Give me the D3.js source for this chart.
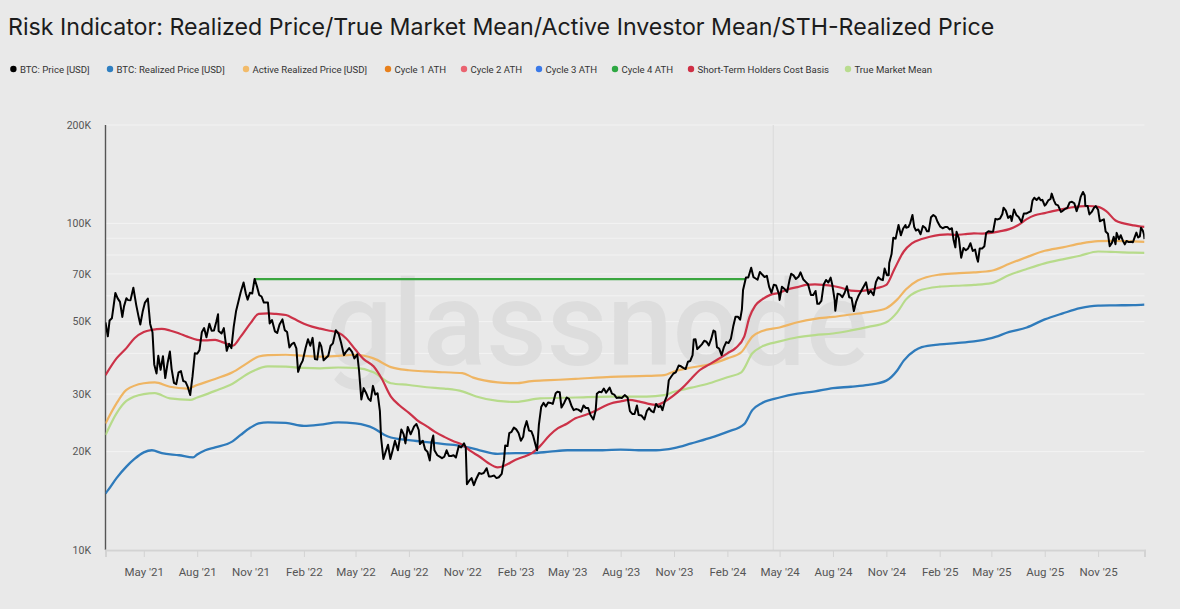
<!DOCTYPE html>
<html>
<head>
<meta charset="utf-8">
<script src="https://cdn.jsdelivr.net/npm/d3@7"></script>
<style>
  html, body { margin: 0; padding: 0; background: #e9e9e9; }
  svg { display: block; }
</style>
</head>
<body>
<div id="chart"></div>
<script>
// Values in thousand USD, [date, value]
const btcPrice = [
  ["2021-02-24",49.7],["2021-02-28",45.1],["2021-03-03",50.4],["2021-03-07",51.2],["2021-03-10",55.9],["2021-03-13",61.2],["2021-03-17",58.9],["2021-03-21",57.5],["2021-03-25",51.7],["2021-03-28",55.8],["2021-04-01",59.0],["2021-04-04",58.2],["2021-04-08",58.1],["2021-04-13",63.5],["2021-04-18",56.2],["2021-04-22",51.8],["2021-04-25",49.0],["2021-04-29",53.6],["2021-05-03",57.2],["2021-05-08",58.8],["2021-05-12",49.2],["2021-05-16",46.4],["2021-05-19",37.0],["2021-05-23",34.7],["2021-05-26",39.3],["2021-05-30",35.6],["2021-06-03",39.2],["2021-06-07",33.6],["2021-06-11",37.3],["2021-06-15",40.5],["2021-06-18",35.8],["2021-06-22",32.5],["2021-06-26",32.2],["2021-06-30",35.0],["2021-07-04",35.3],["2021-07-08",32.9],["2021-07-12",32.7],["2021-07-16",31.5],["2021-07-20",29.8],["2021-07-24",34.0],["2021-07-28",40.0],["2021-08-01",39.9],["2021-08-05",40.9],["2021-08-09",46.4],["2021-08-13",47.8],["2021-08-17",44.8],["2021-08-22",49.3],["2021-08-26",46.9],["2021-08-30",47.0],["2021-09-03",50.0],["2021-09-06",52.7],["2021-09-07",46.8],["2021-09-12",46.0],["2021-09-16",47.8],["2021-09-21",40.7],["2021-09-25",42.8],["2021-09-29",41.5],["2021-10-03",48.2],["2021-10-07",53.8],["2021-10-11",57.5],["2021-10-15",61.5],["2021-10-20",65.9],["2021-10-24",60.9],["2021-10-27",58.4],["2021-10-31",61.3],["2021-11-04",61.0],["2021-11-08",67.6],["2021-11-12",64.2],["2021-11-16",60.3],["2021-11-20",59.7],["2021-11-24",57.2],["2021-11-28",57.2],["2021-12-01",57.2],["2021-12-04",49.4],["2021-12-08",50.6],["2021-12-13",46.7],["2021-12-17",46.2],["2021-12-21",49.0],["2021-12-26",50.8],["2021-12-30",47.1],
  ["2022-01-03",46.5],["2022-01-07",41.7],["2022-01-11",42.7],["2022-01-15",43.1],["2022-01-19",41.4],["2022-01-22",35.1],["2022-01-26",36.8],["2022-01-30",38.0],["2022-02-04",41.6],["2022-02-08",44.2],["2022-02-12",42.2],["2022-02-16",44.6],["2022-02-20",38.4],["2022-02-24",38.3],["2022-02-28",43.2],["2022-03-03",42.0],["2022-03-07",38.1],["2022-03-11",38.7],["2022-03-15",39.3],["2022-03-19",42.2],["2022-03-23",42.9],["2022-03-28",47.1],["2022-04-02",45.8],["2022-04-06",43.2],["2022-04-11",39.5],["2022-04-15",40.5],["2022-04-20",41.5],["2022-04-25",40.4],["2022-04-29",38.6],["2022-05-04",39.7],["2022-05-07",35.5],["2022-05-11",28.9],["2022-05-15",31.3],["2022-05-19",30.3],["2022-05-23",29.1],["2022-05-27",28.6],["2022-05-31",31.8],["2022-06-04",29.9],["2022-06-08",30.2],["2022-06-12",26.6],["2022-06-14",22.1],["2022-06-18",19.0],["2022-06-22",20.0],["2022-06-26",21.0],["2022-06-30",19.0],["2022-07-04",20.2],["2022-07-08",21.6],["2022-07-13",20.2],["2022-07-19",23.4],["2022-07-23",22.6],["2022-07-26",21.2],["2022-07-30",23.8],["2022-08-04",22.6],["2022-08-10",23.9],["2022-08-14",24.3],["2022-08-18",23.3],["2022-08-20",21.1],["2022-08-25",21.6],["2022-08-29",20.3],["2022-09-02",20.0],["2022-09-06",18.8],["2022-09-09",21.4],["2022-09-12",22.4],["2022-09-14",20.2],["2022-09-19",19.5],["2022-09-23",19.3],["2022-09-27",19.1],["2022-10-01",19.3],["2022-10-05",20.2],["2022-10-09",19.4],["2022-10-13",19.4],["2022-10-17",19.5],["2022-10-21",19.2],["2022-10-26",20.8],["2022-10-30",20.6],["2022-11-04",21.2],["2022-11-07",20.6],["2022-11-09",15.9],["2022-11-13",16.3],["2022-11-17",16.6],["2022-11-21",15.8],["2022-11-25",16.5],["2022-11-30",17.2],["2022-12-04",17.1],["2022-12-08",17.2],["2022-12-13",17.8],["2022-12-17",16.8],["2022-12-21",16.8],["2022-12-26",16.9],["2022-12-30",16.6],
  ["2023-01-03",16.7],["2023-01-08",17.1],["2023-01-12",18.9],["2023-01-14",20.9],["2023-01-18",20.8],["2023-01-21",22.8],["2023-01-25",23.0],["2023-01-29",23.7],["2023-02-02",23.4],["2023-02-06",22.8],["2023-02-10",21.6],["2023-02-14",22.2],["2023-02-16",23.5],["2023-02-20",24.8],["2023-02-24",23.2],["2023-02-28",23.1],["2023-03-03",22.4],["2023-03-09",20.4],["2023-03-10",20.2],["2023-03-13",24.1],["2023-03-17",27.4],["2023-03-21",28.2],["2023-03-25",27.5],["2023-03-29",28.3],["2023-04-02",28.2],["2023-04-06",28.0],["2023-04-11",30.2],["2023-04-14",30.5],["2023-04-18",30.4],["2023-04-21",27.3],["2023-04-26",28.3],["2023-04-30",29.3],["2023-05-04",29.0],["2023-05-08",27.7],["2023-05-12",26.8],["2023-05-16",27.0],["2023-05-20",26.9],["2023-05-25",26.5],["2023-05-29",27.7],["2023-06-02",27.2],["2023-06-06",27.2],["2023-06-10",25.9],["2023-06-15",25.1],["2023-06-19",26.8],["2023-06-21",30.1],["2023-06-25",30.5],["2023-06-29",30.4],["2023-07-03",31.2],["2023-07-07",30.3],["2023-07-13",31.4],["2023-07-17",30.1],["2023-07-21",29.9],["2023-07-25",29.2],["2023-07-29",29.3],["2023-08-03",29.2],["2023-08-08",29.8],["2023-08-13",29.3],["2023-08-17",26.6],["2023-08-21",26.1],["2023-08-25",26.1],["2023-08-29",27.7],["2023-09-01",25.9],["2023-09-06",25.8],["2023-09-11",25.1],["2023-09-15",26.6],["2023-09-19",27.2],["2023-09-23",26.6],["2023-09-27",26.4],["2023-10-01",28.0],["2023-10-05",27.4],["2023-10-09",27.6],["2023-10-12",26.8],["2023-10-16",28.5],["2023-10-20",29.7],["2023-10-23",33.1],["2023-10-27",33.9],["2023-10-31",34.7],["2023-11-04",35.0],["2023-11-09",36.7],["2023-11-13",36.5],["2023-11-17",36.1],["2023-11-21",35.8],["2023-11-25",37.7],["2023-11-29",37.9],["2023-12-03",39.5],["2023-12-05",44.1],["2023-12-08",44.2],["2023-12-11",41.2],["2023-12-15",41.9],["2023-12-19",42.6],["2023-12-23",43.7],["2023-12-27",43.4],["2023-12-31",42.3],
  ["2024-01-04",44.2],["2024-01-08",47.0],["2024-01-11",46.6],["2024-01-14",41.8],["2024-01-18",41.3],["2024-01-22",39.5],["2024-01-26",41.8],["2024-01-30",43.3],["2024-02-03",43.0],["2024-02-07",44.3],["2024-02-11",48.3],["2024-02-15",51.8],["2024-02-19",51.8],["2024-02-23",50.7],["2024-02-26",54.5],["2024-02-28",62.5],["2024-03-04",68.3],["2024-03-08",68.3],["2024-03-13",73.1],["2024-03-17",68.4],["2024-03-20",67.9],["2024-03-24",67.2],["2024-03-28",71.0],["2024-04-01",69.7],["2024-04-05",68.5],["2024-04-09",69.1],["2024-04-13",63.9],["2024-04-17",61.3],["2024-04-21",64.9],["2024-04-25",64.5],["2024-04-30",60.6],["2024-05-01",58.3],["2024-05-05",64.0],["2024-05-09",63.1],["2024-05-14",61.6],["2024-05-18",66.9],["2024-05-21",70.1],["2024-05-25",69.3],["2024-05-29",67.6],["2024-06-03",68.8],["2024-06-06",70.8],["2024-06-11",67.3],["2024-06-15",66.2],["2024-06-19",65.1],["2024-06-24",60.3],["2024-06-28",60.3],["2024-07-02",62.1],["2024-07-05",56.7],["2024-07-08",56.7],["2024-07-12",57.9],["2024-07-16",65.0],["2024-07-20",67.1],["2024-07-24",65.9],["2024-07-28",68.2],["2024-07-31",64.6],["2024-08-04",58.1],["2024-08-05",54.0],["2024-08-09",60.9],["2024-08-13",60.6],["2024-08-17",59.4],["2024-08-21",61.2],["2024-08-25",64.2],["2024-08-29",59.4],["2024-09-02",59.1],["2024-09-06",53.9],["2024-09-10",57.6],["2024-09-14",60.0],["2024-09-18",61.7],["2024-09-22",63.6],["2024-09-27",66.0],["2024-10-01",60.8],["2024-10-05",62.1],["2024-10-10",60.3],["2024-10-14",66.1],["2024-10-18",68.4],["2024-10-22",67.4],["2024-10-26",67.0],["2024-10-29",72.7],["2024-11-02",69.4],["2024-11-05",69.4],["2024-11-06",75.6],["2024-11-10",80.5],["2024-11-13",90.4],["2024-11-17",89.8],["2024-11-22",98.9],["2024-11-26",91.9],["2024-11-30",96.4],["2024-12-04",98.8],["2024-12-05",97.0],["2024-12-09",97.4],["2024-12-12",100.0],["2024-12-16",106.1],["2024-12-19",97.5],["2024-12-22",95.1],["2024-12-26",95.8],["2024-12-30",92.6],
  ["2025-01-03",98.1],["2025-01-07",96.9],["2025-01-10",94.6],["2025-01-13",94.5],["2025-01-17",104.4],["2025-01-21",106.1],["2025-01-25",104.7],["2025-01-28",101.3],["2025-02-02",97.7],["2025-02-06",96.6],["2025-02-10",97.4],["2025-02-14",97.5],["2025-02-18",95.8],["2025-02-22",96.6],["2025-02-25",88.7],["2025-02-28",84.4],["2025-03-02",94.2],["2025-03-06",89.9],["2025-03-10",78.5],["2025-03-14",84.0],["2025-03-18",82.7],["2025-03-22",83.8],["2025-03-26",86.9],["2025-03-30",82.3],["2025-04-03",83.1],["2025-04-06",78.4],["2025-04-08",76.3],["2025-04-11",83.8],["2025-04-15",83.7],["2025-04-19",85.1],["2025-04-22",93.4],["2025-04-26",94.6],["2025-04-30",94.2],["2025-05-04",94.3],["2025-05-08",103.2],["2025-05-12",102.8],["2025-05-16",103.5],["2025-05-20",106.8],["2025-05-22",111.7],["2025-05-26",109.4],["2025-05-30",103.9],["2025-06-03",105.4],["2025-06-05",101.6],["2025-06-09",110.3],["2025-06-13",106.1],["2025-06-17",104.6],["2025-06-22",100.9],["2025-06-26",107.1],["2025-06-30",107.1],["2025-07-04",108.0],["2025-07-08",108.9],["2025-07-11",117.5],["2025-07-14",119.8],["2025-07-18",117.9],["2025-07-22",120.0],["2025-07-25",117.6],["2025-07-28",118.0],["2025-08-01",113.3],["2025-08-03",114.2],["2025-08-07",117.5],["2025-08-11",118.7],["2025-08-13",123.3],["2025-08-17",117.4],["2025-08-20",114.3],["2025-08-24",113.5],["2025-08-29",108.4],["2025-09-01",109.2],["2025-09-05",110.7],["2025-09-09",111.5],["2025-09-13",115.9],["2025-09-17",116.4],["2025-09-21",115.2],["2025-09-25",109.0],["2025-09-29",114.3],["2025-10-02",120.5],["2025-10-06",124.7],["2025-10-09",121.7],["2025-10-10",113.2],["2025-10-14",113.0],["2025-10-17",106.5],["2025-10-21",108.4],["2025-10-25",111.6],["2025-10-28",112.9],["2025-11-01",110.1],["2025-11-04",101.5],["2025-11-08",102.3],["2025-11-11",102.9],["2025-11-14",94.4],["2025-11-18",92.9],["2025-11-21",85.1],["2025-11-25",87.3],["2025-11-28",90.9],["2025-12-01",86.3],["2025-12-03",93.5],["2025-12-07",89.4],["2025-12-10",92.0],["2025-12-14",88.2],["2025-12-17",86.2],["2025-12-20",88.3],["2025-12-24",87.6],["2025-12-28",87.8],["2025-12-31",87.5],
  ["2026-01-03",90.6],["2026-01-06",93.7],["2026-01-09",90.5],["2026-01-12",91.2],["2026-01-14",97.0],["2026-01-17",95.1],["2026-01-19",92.6],["2026-01-20",89.5]
];

const realizedPrice = [
  ["2021-02-24",14.9],["2021-03-01",15.3],["2021-03-15",16.6],["2021-04-01",18.0],["2021-04-15",19.0],["2021-05-01",19.9],["2021-05-15",20.2],["2021-06-01",19.8],["2021-07-01",19.5],["2021-07-25",19.2],["2021-08-01",19.6],["2021-08-15",20.2],["2021-09-01",20.6],["2021-10-01",21.5],["2021-10-15",22.5],["2021-11-01",23.7],["2021-11-15",24.4],["2021-12-01",24.6],
  ["2022-01-01",24.5],["2022-02-01",24.0],["2022-03-01",24.2],["2022-04-01",24.6],["2022-05-01",24.4],["2022-06-01",23.6],["2022-06-20",22.5],["2022-07-01",22.1],["2022-08-01",21.7],["2022-09-01",21.4],["2022-10-01",21.1],["2022-11-01",20.8],["2022-12-01",20.2],
  ["2023-01-01",19.7],["2023-02-01",19.8],["2023-03-01",19.8],["2023-04-01",20.0],["2023-05-01",20.2],["2023-06-01",20.2],["2023-07-01",20.2],["2023-08-01",20.3],["2023-09-01",20.2],["2023-10-01",20.2],["2023-11-01",20.5],["2023-12-01",21.2],
  ["2024-01-01",22.0],["2024-02-01",23.0],["2024-03-01",24.3],["2024-03-15",26.8],["2024-04-01",28.2],["2024-05-01",29.3],["2024-06-01",30.1],["2024-07-01",30.6],["2024-08-01",31.3],["2024-09-01",31.6],["2024-10-01",32.0],["2024-11-01",33.0],["2024-11-20",35.5],["2024-12-01",38.0],["2024-12-20",40.8],
  ["2025-01-01",41.8],["2025-02-01",42.6],["2025-03-01",43.0],["2025-04-01",43.5],["2025-05-01",44.5],["2025-06-01",46.5],["2025-07-01",48.0],["2025-08-01",50.8],["2025-09-01",53.0],["2025-10-01",55.0],["2025-11-01",56.0],["2025-12-01",56.1],
  ["2026-01-01",56.2],["2026-01-20",56.4]
];

const activeRealizedPrice = [
  ["2021-02-24",24.4],["2021-03-15",28.1],["2021-04-01",30.9],["2021-05-01",32.4],["2021-05-20",32.6],["2021-06-15",31.6],["2021-07-15",31.2],["2021-08-01",32.0],["2021-09-01",33.4],["2021-10-01",35.0],["2021-10-25",37.2],["2021-11-15",39.1],["2021-12-01",39.5],
  ["2022-01-01",39.6],["2022-02-01",39.3],["2022-03-01",39.1],["2022-04-01",39.3],["2022-05-01",39.6],["2022-06-01",38.6],["2022-07-01",36.3],["2022-08-01",35.5],["2022-09-01",35.2],["2022-10-01",35.0],["2022-11-01",34.8],["2022-11-20",33.7],
  ["2023-01-01",32.6],["2023-02-01",32.4],["2023-03-01",32.9],["2023-04-01",33.1],["2023-05-15",33.4],["2023-07-15",33.9],["2023-09-15",34.1],["2023-10-15",34.3],["2023-11-01",35.2],["2023-12-01",36.2],
  ["2024-01-01",37.0],["2024-02-01",38.6],["2024-02-25",40.3],["2024-03-15",45.0],["2024-04-01",46.8],["2024-05-01",48.0],["2024-06-01",49.8],["2024-07-01",51.0],["2024-08-01",51.7],["2024-09-01",52.6],["2024-10-01",53.5],["2024-11-01",55.0],["2024-11-20",58.5],["2024-12-05",62.8],["2024-12-25",66.8],
  ["2025-02-01",69.7],["2025-03-01",70.3],["2025-04-01",70.8],["2025-05-01",71.6],["2025-06-01",75.2],["2025-07-01",78.8],["2025-08-01",82.4],["2025-09-01",84.4],["2025-10-01",86.7],["2025-11-01",88.2],["2025-12-01",88.4],
  ["2026-01-01",88.0],["2026-01-20",87.8]
];

const sthCostBasis = [
  ["2021-02-24",34.3],["2021-03-15",38.6],["2021-04-01",41.5],["2021-04-15",44.5],["2021-05-01",46.5],["2021-05-15",47.2],["2021-06-01",47.5],["2021-06-15",47.0],["2021-07-01",46.0],["2021-07-15",45.0],["2021-08-01",44.0],["2021-08-15",43.8],["2021-09-01",44.0],["2021-09-15",43.2],["2021-10-01",42.2],["2021-10-15",45.0],["2021-11-01",49.5],["2021-11-15",52.8],["2021-12-01",53.0],["2021-12-15",52.8],
  ["2022-01-01",52.4],["2022-01-15",51.0],["2022-02-01",49.3],["2022-02-15",48.3],["2022-03-01",47.6],["2022-03-15",47.0],["2022-04-01",46.3],["2022-04-15",44.4],["2022-05-01",41.0],["2022-05-15",38.4],["2022-06-01",36.5],["2022-06-15",33.5],["2022-07-01",29.5],["2022-07-15",27.8],["2022-08-01",26.3],["2022-08-15",25.0],["2022-09-01",23.9],["2022-09-15",23.0],["2022-10-01",22.2],["2022-10-15",21.6],["2022-11-01",21.0],["2022-11-15",20.1],["2022-12-01",19.3],["2022-12-15",18.5],
  ["2023-01-01",17.9],["2023-01-15",18.2],["2023-02-01",18.9],["2023-02-15",19.3],["2023-03-01",19.8],["2023-03-15",20.8],["2023-04-01",22.5],["2023-04-15",23.6],["2023-05-01",24.4],["2023-05-15",25.3],["2023-06-01",25.9],["2023-06-15",26.5],["2023-07-01",27.4],["2023-07-15",28.1],["2023-08-01",28.5],["2023-08-15",28.8],["2023-09-01",28.5],["2023-09-15",28.1],["2023-10-01",27.8],["2023-10-15",28.4],["2023-11-01",29.8],["2023-11-15",31.3],["2023-12-01",33.5],["2023-12-15",35.5],
  ["2024-01-01",37.0],["2024-01-15",38.3],["2024-02-01",40.0],["2024-02-15",41.5],["2024-03-01",45.0],["2024-03-10",51.5],["2024-03-20",56.0],["2024-04-01",58.5],["2024-04-15",60.4],["2024-05-01",61.3],["2024-05-15",62.8],["2024-06-01",63.8],["2024-06-15",64.8],["2024-07-01",65.0],["2024-07-15",64.8],["2024-08-01",64.3],["2024-08-15",63.5],["2024-09-01",62.2],["2024-09-15",62.0],["2024-10-01",62.5],["2024-10-15",63.3],["2024-11-01",64.8],["2024-11-15",72.5],["2024-12-01",82.0],["2024-12-15",86.8],
  ["2025-01-01",89.5],["2025-01-15",91.0],["2025-02-01",92.2],["2025-02-15",92.5],["2025-03-01",92.2],["2025-03-15",92.6],["2025-04-01",93.2],["2025-04-15",93.0],["2025-05-01",93.5],["2025-05-15",94.5],["2025-06-01",96.0],["2025-06-15",98.5],["2025-07-01",103.0],["2025-07-15",105.8],["2025-08-01",107.5],["2025-08-15",109.0],["2025-09-01",110.5],["2025-09-15",111.8],["2025-10-01",112.7],["2025-10-15",113.0],["2025-11-01",112.3],["2025-11-15",109.0],["2025-12-01",102.0],["2025-12-15",100.0],
  ["2026-01-01",98.6],["2026-01-20",97.5]
];

const trueMarketMean = [
  ["2021-02-24",22.5],["2021-03-15",26.2],["2021-04-01",28.6],["2021-05-01",30.0],["2021-05-20",30.2],["2021-06-15",29.1],["2021-07-20",28.8],["2021-08-01",29.3],["2021-09-01",30.7],["2021-10-01",32.3],["2021-11-01",35.0],["2021-12-01",36.5],
  ["2022-01-01",36.4],["2022-02-01",36.1],["2022-03-01",36.0],["2022-04-01",36.2],["2022-05-01",36.1],["2022-06-01",35.0],["2022-07-01",32.4],["2022-08-01",32.0],["2022-09-01",31.5],["2022-10-01",31.2],["2022-11-01",30.6],["2022-11-25",29.5],
  ["2023-01-01",28.6],["2023-02-01",28.4],["2023-03-15",29.1],["2023-05-15",29.3],["2023-07-15",29.5],["2023-09-15",29.5],["2023-10-15",29.8],["2023-11-01",30.5],["2023-12-01",31.4],
  ["2024-01-01",32.4],["2024-02-01",33.8],["2024-02-25",35.0],["2024-03-15",40.0],["2024-04-01",42.0],["2024-05-01",43.5],["2024-06-01",44.8],["2024-07-01",45.5],["2024-08-01",46.0],["2024-09-01",47.0],["2024-10-01",48.2],["2024-11-01",49.8],["2024-11-20",53.5],["2024-12-05",58.5],["2024-12-25",62.0],
  ["2025-02-01",64.0],["2025-03-01",64.4],["2025-04-01",64.8],["2025-05-01",65.6],["2025-06-01",69.5],["2025-07-01",72.5],["2025-08-01",75.4],["2025-09-01",77.6],["2025-10-01",79.6],["2025-11-01",82.0],["2025-12-01",81.7],
  ["2026-01-01",81.3],["2026-01-20",81.2]
];

// Cycle 4 ATH, held flat until price broke above it
const cycle4Ath = [["2021-11-08",67.5],["2024-03-04",67.5]];

const halvingDates = ["2024-04-20"];

const yTickLabels = [10, 20, 30, 50, 70, 100, 200];
const yGridValues = [10, 20, 30, 40, 50, 60, 70, 80, 90, 100, 200];

const legendItems = [
  { label: 'BTC: Price [USD]', color: '#000000' },
  { label: 'BTC: Realized Price [USD]', color: '#2f7fc1' },
  { label: 'Active Realized Price [USD]', color: '#f2bb6a' },
  { label: 'Cycle 1 ATH', color: '#e8801c' },
  { label: 'Cycle 2 ATH', color: '#ea6370' },
  { label: 'Cycle 3 ATH', color: '#3a79e8' },
  { label: 'Cycle 4 ATH', color: '#2ea843' },
  { label: 'Short-Term Holders Cost Basis', color: '#cf2f45' },
  { label: 'True Market Mean', color: '#b9dc8f' },
];

const W = 1180, H = 609;
const plot = { left: 105.5, right: 1144.5, top: 125, bottom: 550 };
const parse = d3.timeParse('%Y-%m-%d');
const toPoints = arr => arr.map(([d, v]) => ({ date: parse(d), value: v * 1000 }));

const svg = d3.select('#chart').append('svg')
  .attr('width', W).attr('height', H);

svg.append('rect').attr('width', W).attr('height', H).attr('fill', '#e9e9e9');

// Title
svg.append('text')
  .attr('x', 8).attr('y', 35)
  .attr('font-family', 'Inter, "Noto Sans", sans-serif')
  .attr('font-size', '23.2px')
  .attr('fill', '#1c1c1c')
  .text('Risk Indicator: Realized Price/True Market Mean/Active Investor Mean/STH-Realized Price');

// Legend
const legendX = [13.4, 110, 246, 388, 464, 539, 615, 691, 848];
const legend = svg.append('g').attr('transform', 'translate(0, 69)');
legendItems.forEach((item, i) => {
  const lg = legend.append('g').attr('transform', `translate(${legendX[i]}, 0)`);
  lg.append('circle').attr('r', 3.2).attr('fill', item.color);
  lg.append('text')
    .attr('x', 6.5).attr('y', 3.5)
    .attr('font-family', 'Roboto, sans-serif')
    .attr('font-size', '9.6px')
    .attr('fill', '#333')
    .text(item.label);
});

// Scales
const x = d3.scaleTime()
  .domain([parse('2021-02-24'), parse('2026-01-20')])
  .range([plot.left, plot.right]);

const y = d3.scaleLog()
  .domain([10000, 200000])
  .range([plot.bottom, plot.top]);

// Gridlines
svg.append('g')
  .selectAll('line')
  .data(yGridValues)
  .join('line')
  .attr('x1', plot.left).attr('x2', plot.right)
  .attr('y1', d => y(d * 1000)).attr('y2', d => y(d * 1000))
  .attr('stroke', '#f3f3f3')
  .attr('stroke-width', 1);

// Halving marker
svg.append('g')
  .selectAll('line')
  .data(halvingDates)
  .join('line')
  .attr('x1', d => x(parse(d))).attr('x2', d => x(parse(d)))
  .attr('y1', plot.top).attr('y2', plot.bottom)
  .attr('stroke', '#dadada')
  .attr('stroke-width', 1);

// Watermark
svg.append('text')
  .attr('x', 326).attr('y', 365)
  .attr('font-family', 'Roboto, sans-serif')
  .attr('font-weight', 500)
  .attr('font-size', '118px')
  .attr('textLength', 543)
  .attr('lengthAdjust', 'spacingAndGlyphs')
  .attr('fill', '#dddddd')
  .text('glassnode');

// Y axis
const yAxis = svg.append('g');
yAxis.append('line')
  .attr('x1', plot.left).attr('x2', plot.left)
  .attr('y1', plot.top).attr('y2', plot.bottom)
  .attr('stroke', '#555').attr('stroke-width', 1.4);
yAxis.selectAll('text')
  .data(yTickLabels)
  .join('text')
  .attr('x', 91)
  .attr('y', d => y(d * 1000))
  .attr('dy', '0.35em')
  .attr('text-anchor', 'end')
  .attr('font-family', 'Roboto, sans-serif')
  .attr('font-size', '10.5px')
  .attr('fill', '#555')
  .text(d => `${d}K`);

// X axis
const xTicks = d3.timeMonth.range(parse('2021-03-01'), parse('2026-01-20'))
  .filter(d => d.getMonth() % 3 === 1);
const xAxis = svg.append('g')
  .attr('transform', `translate(0, ${plot.bottom})`)
  .call(d3.axisBottom(x).tickValues(xTicks).tickFormat(d3.timeFormat("%b '%y")).tickSize(7).tickPadding(11));
xAxis.select('.domain').attr('stroke', '#d3d3d3').attr('stroke-width', 2);
xAxis.selectAll('.tick line').attr('stroke', '#d3d3d3');
xAxis.selectAll('.tick text')
  .attr('font-family', 'Roboto, sans-serif')
  .attr('font-size', '11.5px')
  .attr('fill', '#555');

// Lines
svg.append('defs').append('clipPath').attr('id', 'plot-clip')
  .append('rect')
  .attr('x', plot.left).attr('y', plot.top)
  .attr('width', plot.right - plot.left).attr('height', plot.bottom - plot.top);

const lines = svg.append('g').attr('clip-path', 'url(#plot-clip)');

const smooth = d3.line().x(d => x(d.date)).y(d => y(d.value)).curve(d3.curveMonotoneX);
const straight = d3.line().x(d => x(d.date)).y(d => y(d.value));

const series = [
  { data: cycle4Ath, color: '#3aa640', width: 2.2, gen: straight },
  { data: realizedPrice, color: '#2f7bbb', width: 2.3, gen: smooth },
  { data: trueMarketMean, color: '#b7db8b', width: 2.2, gen: smooth },
  { data: activeRealizedPrice, color: '#efb563', width: 2.2, gen: smooth },
  { data: sthCostBasis, color: '#cc3248', width: 2.2, gen: smooth },
  { data: btcPrice, color: '#000000', width: 2, gen: straight },
];

series.forEach(s => {
  lines.append('path')
    .datum(toPoints(s.data))
    .attr('fill', 'none')
    .attr('stroke', s.color)
    .attr('stroke-width', s.width)
    .attr('stroke-linejoin', 'round')
    .attr('d', s.gen);
});
</script>
</body>
</html>
